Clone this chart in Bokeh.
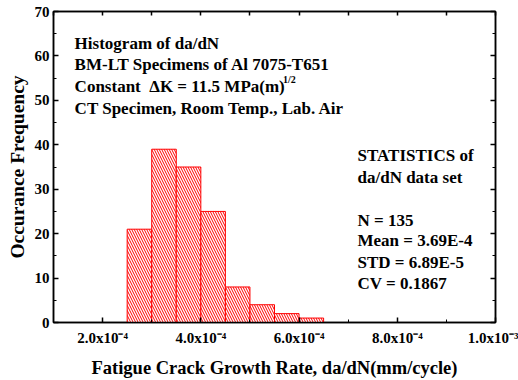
from bokeh.plotting import figure
from bokeh.models import (FixedTicker, LinearAxis, Label, CustomJSTickFormatter, Range1d)
from bokeh.embed import file_html
from bokeh.resources import INLINE

# ---- data ----
bin_left = [2.5e-4, 3.0e-4, 3.5e-4, 4.0e-4, 4.5e-4, 5.0e-4, 5.5e-4, 6.0e-4]
bin_width = 0.5e-4
counts = [21, 39, 35, 25, 8, 4, 2, 1]
x_major = [2e-4, 4e-4, 6e-4, 8e-4, 1e-3]
x_minor = [1e-4, 3e-4, 5e-4, 7e-4, 9e-4]
x_labels = {2e-4: "2.0x10⁻⁴", 4e-4: "4.0x10⁻⁴", 6e-4: "6.0x10⁻⁴",
            8e-4: "8.0x10⁻⁴", 1e-3: "1.0x10⁻³"}
y_major = [0, 10, 20, 30, 40, 50, 60, 70]
y_minor = [5, 15, 25, 35, 45, 55, 65]
title_lines = ["Histogram of da/dN",
               "BM-LT Specimens of Al 7075-T651",
               "Constant\u00a0\u00a0ΔK = 11.5 MPa(m)",
               "CT Specimen, Room Temp., Lab. Air"]
stats_lines = ["STATISTICS of", "da/dN data set", "",
               "N = 135", "Mean = 3.69E-4", "STD = 6.89E-5", "CV = 0.1867"]

FONT = "Liberation Serif"

p = figure(width=518, height=380, output_backend="svg", toolbar_location=None,
           x_range=Range1d(1e-4, 1e-3), y_range=Range1d(0, 70),
           min_border_left=53, min_border_right=23, min_border_top=11, min_border_bottom=58)
p.xgrid.visible = False
p.ygrid.visible = False
p.outline_line_color = "black"
p.outline_line_width = 1.5

right = [l + bin_width for l in bin_left]
p.quad(left=bin_left, right=right, bottom=0, top=counts,
       fill_color="white", line_color="red", line_width=1,
       hatch_pattern="\\", hatch_color="red", hatch_scale=5, hatch_weight=1)

fmt = CustomJSTickFormatter(code="""
const m = {%s};
let best = null, bd = 1e9;
for (const k in m) { const d = Math.abs(parseFloat(k) - tick); if (d < bd) { bd = d; best = m[k]; } }
return best;
""" % ", ".join('"%r": "%s"' % (k, v) for k, v in x_labels.items()))
blank = CustomJSTickFormatter(code='return "";')

def style(ax):
    ax.axis_line_width = 1.5
    ax.axis_line_color = "black"
    ax.major_tick_in = 5
    ax.major_tick_out = 0
    ax.minor_tick_in = 3
    ax.minor_tick_out = 0
    ax.major_tick_line_width = 1.5
    ax.minor_tick_line_width = 1
    ax.major_tick_line_color = "black"
    ax.minor_tick_line_color = "black"
    ax.major_label_text_color = "black"
    ax.axis_label_text_color = "black"
    ax.major_label_text_font = FONT
    ax.major_label_text_font_style = "bold"
    ax.major_label_text_font_size = "15px"
    ax.axis_label_text_font = FONT
    ax.axis_label_text_font_style = "bold"
    ax.axis_label_text_font_size = "18.5px"

xa = p.xaxis[0]
xa.ticker = FixedTicker(ticks=x_major, minor_ticks=x_minor + x_major)
xa.formatter = fmt
xa.axis_label = "Fatigue Crack Growth Rate, da/dN(mm/cycle)"
style(xa)
xa.major_label_standoff = 7
xa.axis_label_standoff = 9

ya = p.yaxis[0]
ya.ticker = FixedTicker(ticks=y_major, minor_ticks=y_minor)
ya.axis_label = "Occurance Frequency"
style(ya)
ya.axis_label_text_font_size = "19.5px"
ya.major_label_standoff = 4
ya.axis_label_standoff = 4

top_ax = LinearAxis(ticker=FixedTicker(ticks=x_major + x_minor, minor_ticks=[]), formatter=blank)
right_ax = LinearAxis(ticker=FixedTicker(ticks=y_major, minor_ticks=y_minor), formatter=blank)
for ax in (top_ax, right_ax):
    style(ax)
    ax.major_label_standoff = 0
top_ax.major_tick_in = 4
p.add_layout(top_ax, "above")
p.add_layout(right_ax, "right")

# annotation positions (data units)
tx = 1.43e-4
ty = [62.8, 58.0, 53.1, 48.2]
for s, yy in zip(title_lines, ty):
    p.add_layout(Label(x=tx, y=yy, text=s, text_font=FONT, text_font_style="bold",
                       text_font_size="17px", text_baseline="middle", text_color="black"))
p.add_layout(Label(x=5.675e-4, y=54.6, text="1/2", text_font=FONT, text_font_style="bold",
                   text_font_size="10px", text_baseline="middle", text_color="black"))

sx = 7.19e-4
sy = [37.6, 32.6, 0, 23.0, 18.5, 13.5, 8.8]
for s, yy in zip(stats_lines, sy):
    if s:
        p.add_layout(Label(x=sx, y=yy, text=s, text_font=FONT, text_font_style="bold",
                           text_font_size="17px", text_baseline="middle", text_color="black"))

open("out.html", "w").write(file_html(p, INLINE))
